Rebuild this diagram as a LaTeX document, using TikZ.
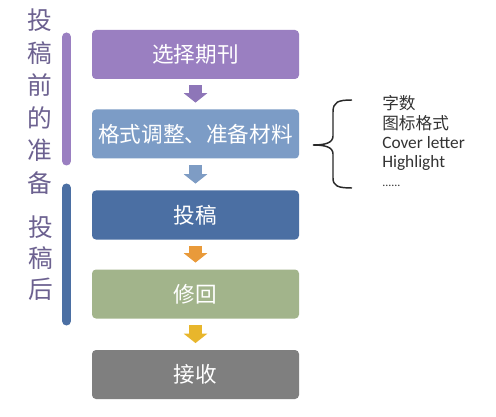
\documentclass[tikz,border=0pt]{standalone}
\usepackage{fontspec}
\setmainfont{Carlito}
\newfontfamily\cjk{Noto Sans CJK SC}
\usetikzlibrary{arrows.meta}
\definecolor{cpurple}{HTML}{9A7FC1}
\definecolor{clblue}{HTML}{7C9CC6}
\definecolor{cdblue}{HTML}{4B6FA3}
\definecolor{cgreen}{HTML}{A2B48B}
\definecolor{cgray}{HTML}{7F7F7F}
\definecolor{apurple}{HTML}{8E76B8}
\definecolor{ablue}{HTML}{7E9CC4}
\definecolor{aorange}{HTML}{E99A3A}
\definecolor{ayellow}{HTML}{E8B62C}
\definecolor{ltext}{HTML}{6C6190}
\definecolor{rtext}{HTML}{333333}
\begin{document}
\begin{tikzpicture}[x=0.75pt,y=-0.75pt,
  stepbox/.style={rounded corners=3pt, minimum width=155.25pt, minimum height=36.75pt,
    inner sep=0pt, text=white, font=\cjk\fontsize{16.2}{18}\selectfont},
  flowarrow/.style={line width=9.75pt, shorten <=4.5pt, shorten >=5pt,
    -{Triangle[width=17.25pt,length=7pt]}},
  sidebar/.style={line width=6.75pt, line cap=round},
  sidetext/.style={align=center, text=ltext, font=\cjk\fontsize{18.5}{24.4}\selectfont, inner sep=0pt},
  listitem/.style={anchor=west, text=rtext, inner sep=0pt, font=\fontsize{13}{15}\selectfont},
  listcjk/.style={listitem, font=\cjk\fontsize{12.5}{15}\selectfont}
]
\useasboundingbox (0,0) rectangle (496,417);
\fill[white] (0,0) rectangle (496,417);

\node[stepbox, fill=cpurple] (b1) at (195.5,54.5) {选择期刊};
\node[stepbox, fill=clblue] (b2) at (195.5,134) {格式调整、准备材料};
\node[stepbox, fill=cdblue] (b3) at (195.5,215) {投稿};
\node[stepbox, fill=cgreen] (b4) at (195.5,294) {修回};
\node[stepbox, fill=cgray] (b5) at (195.5,374.5) {接收};

\draw[flowarrow, apurple] (b1) -- (b2);
\draw[flowarrow, ablue] (b2) -- (b3);
\draw[flowarrow, aorange] (b3) -- (b4);
\draw[flowarrow, ayellow] (b4) -- (b5);

\coordinate (p1) at (66.5,37);
\coordinate (p2) at (66.5,161);
\coordinate (q1) at (66.5,188);
\coordinate (q2) at (66.5,321);
\draw[sidebar, cpurple] (p1) -- (p2);
\draw[sidebar, cdblue] (q1) -- (q2);

\node[sidetext] (pre) at (40,101.5) {投\\稿\\前\\的\\准\\备};
\node[sidetext, font=\cjk\fontsize{18.5}{23.25}\selectfont] (post) at (41,258) {投\\稿\\后};

\draw[line width=1.1pt, rtext!80!black] (352,100) .. controls (338,100) and (333,102) .. (333,112)
  -- (333,136) .. controls (333,143) and (325,145) .. (313,145)
  .. controls (325,145) and (333,147) .. (333,154)
  -- (333,178) .. controls (333,186) and (338,188) .. (352,188);

\node[listcjk] (l1) at (382,103) {字数};
\node[listcjk] (l2) at (382,123) {图标格式};
\node[listitem] (l3) at (382,143) {Cover letter};
\node[listitem] (l4) at (382,163) {Highlight};
\node[listitem, font=\fontsize{9}{10}\selectfont] (l5) at (382,186) {......};
\end{tikzpicture}
\end{document}
